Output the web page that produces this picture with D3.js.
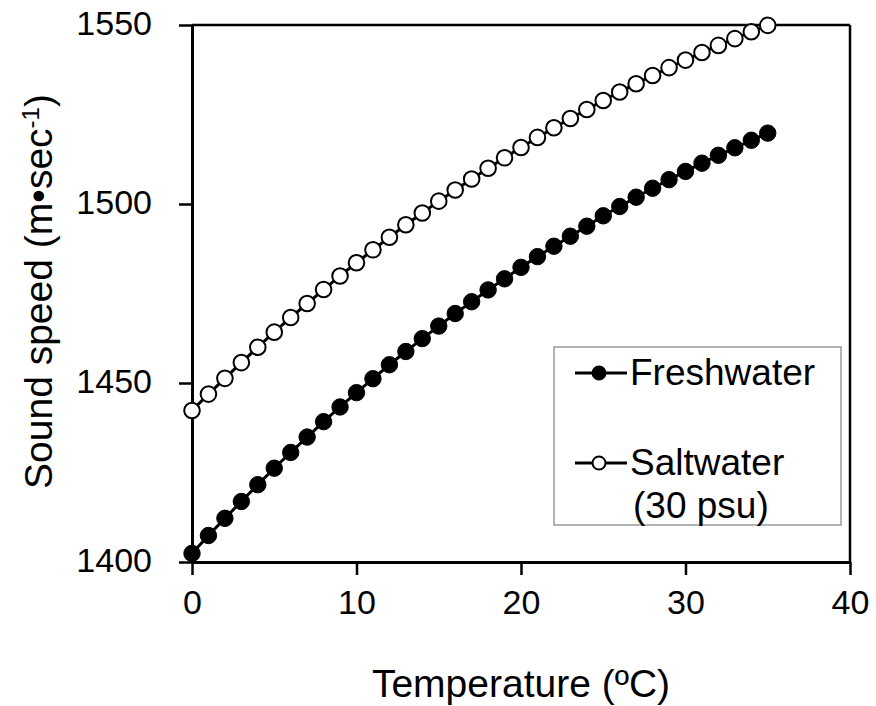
<!DOCTYPE html>
<html>
<head>
<meta charset="utf-8">
<script src="https://cdn.jsdelivr.net/npm/d3@7"></script>
<style>
  html, body { margin: 0; padding: 0; background: #fff; }
  svg { display: block; font-family: "Liberation Sans", Arial, sans-serif; }
</style>
</head>
<body>
<script>
// ---- data ----
const temperature = [0,1,2,3,4,5,6,7,8,9,10,11,12,13,14,15,16,17,18,19,20,21,22,23,24,25,26,27,28,29,30,31,32,33,34,35];
const freshwater = [1402.4,1407.4,1412.2,1416.9,1421.6,1426.2,1430.6,1434.9,1439.2,1443.3,1447.3,1451.2,1455.1,1458.8,1462.4,1465.9,1469.4,1472.7,1476.0,1479.1,1482.3,1485.3,1488.2,1491.0,1493.8,1496.7,1499.3,1501.9,1504.4,1506.8,1509.1,1511.4,1513.6,1515.7,1517.8,1519.8];
const saltwater = [1442.3,1446.9,1451.3,1455.7,1460.0,1464.2,1468.3,1472.2,1476.1,1479.9,1483.6,1487.2,1490.7,1494.2,1497.5,1500.8,1503.9,1507.0,1510.0,1512.9,1515.8,1518.6,1521.3,1523.9,1526.4,1528.9,1531.3,1533.6,1535.9,1538.1,1540.2,1542.3,1544.3,1546.2,1548.1,1549.9];
const xTicks = [0,10,20,30,40];
const yTicks = [1400,1450,1500,1550];
const seriesNames = ["Freshwater", "Saltwater", "(30 psu)"];
const xTitle = "Temperature (ºC)";
const yTitleMain = "Sound speed (m•sec";
const yTitleSup = "-1";

const W = 876, H = 706;
const L = 192, R = 850, T = 25, B = 562;

const svg = d3.select("body").append("svg").attr("width", W).attr("height", H);

const x = d3.scaleLinear().domain([0, 40]).range([L, R]);
const y = d3.scaleLinear().domain([1400, 1550]).range([B, T]);

// frame top / right
svg.append("line").attr("x1", L).attr("x2", R).attr("y1", T).attr("y2", T)
  .attr("stroke", "#000").attr("stroke-width", 2.5);
svg.append("line").attr("x1", R).attr("x2", R).attr("y1", T).attr("y2", B)
  .attr("stroke", "#000").attr("stroke-width", 2.5);

// axes
const fmt = d3.format("d");
const xAxis = svg.append("g").attr("transform", `translate(0,${B})`)
  .call(d3.axisBottom(x).tickValues(xTicks).tickFormat(fmt).tickSize(13).tickPadding(15).tickSizeOuter(0));
const yAxis = svg.append("g").attr("transform", `translate(${L},0)`)
  .call(d3.axisLeft(y).tickValues(yTicks).tickFormat(fmt).tickSize(13).tickPadding(27).tickSizeOuter(0));

[xAxis, yAxis].forEach(g => {
  g.select(".domain").attr("stroke", "#000").attr("stroke-width", 3);
  g.selectAll(".tick line").attr("stroke", "#000").attr("stroke-width", 2.5);
  g.selectAll(".tick text").attr("fill", "#000").style("font-size", "34px")
    .style("font-family", '"Liberation Sans", Arial, sans-serif');
});
xAxis.selectAll(".tick text").attr("dy", "0.71em");
yAxis.selectAll(".tick text").attr("dy", "0.27em");

// lines
const lineGen = d3.line().x((d, i) => x(temperature[i])).y(d => y(d));
svg.append("path").datum(freshwater).attr("d", lineGen)
  .attr("fill", "none").attr("stroke", "#000").attr("stroke-width", 3);
svg.append("path").datum(saltwater).attr("d", lineGen)
  .attr("fill", "none").attr("stroke", "#000").attr("stroke-width", 3);

// markers
svg.append("g").selectAll("circle").data(freshwater).join("circle")
  .attr("cx", (d, i) => x(temperature[i])).attr("cy", d => y(d)).attr("r", 8.2)
  .attr("fill", "#000").attr("stroke", "#000").attr("stroke-width", 1);
svg.append("g").selectAll("circle").data(saltwater).join("circle")
  .attr("cx", (d, i) => x(temperature[i])).attr("cy", d => y(d)).attr("r", 7.8)
  .attr("fill", "#fff").attr("stroke", "#000").attr("stroke-width", 2);

// titles
svg.append("text").attr("x", (L + R) / 2).attr("y", 697).attr("text-anchor", "middle")
  .style("font-size", "39px").text(xTitle);
const yt = svg.append("text").attr("transform", `translate(52,${(T + B) / 2 - 2}) rotate(-90)`)
  .attr("text-anchor", "middle").style("font-size", "39px");
yt.append("tspan").text(yTitleMain);
yt.append("tspan").attr("dy", "-0.55em").style("font-size", "24px").text(yTitleSup);
yt.append("tspan").attr("dy", "0.35em").text(")");

// legend
const lg = svg.append("g");
lg.append("rect").attr("x", 554).attr("y", 347).attr("width", 287).attr("height", 178)
  .attr("fill", "#fff").attr("stroke", "#808080").attr("stroke-width", 1.2);
const legendRows = [
  { y: 373, fill: "#000", label: seriesNames[0] },
  { y: 463, fill: "#fff", label: seriesNames[1] }
];
legendRows.forEach(r => {
  lg.append("line").attr("x1", 575).attr("x2", 627).attr("y1", r.y).attr("y2", r.y)
    .attr("stroke", "#000").attr("stroke-width", 3);
  lg.append("circle").attr("cx", 599).attr("cy", r.y).attr("r", 6.5)
    .attr("fill", r.fill).attr("stroke", "#000").attr("stroke-width", 2);
  lg.append("text").attr("x", 630).attr("y", r.y + 12).style("font-size", "37px").text(r.label);
});
lg.append("text").attr("x", 633).attr("y", 518).style("font-size", "37px").text(seriesNames[2]);
</script>
</body>
</html>
